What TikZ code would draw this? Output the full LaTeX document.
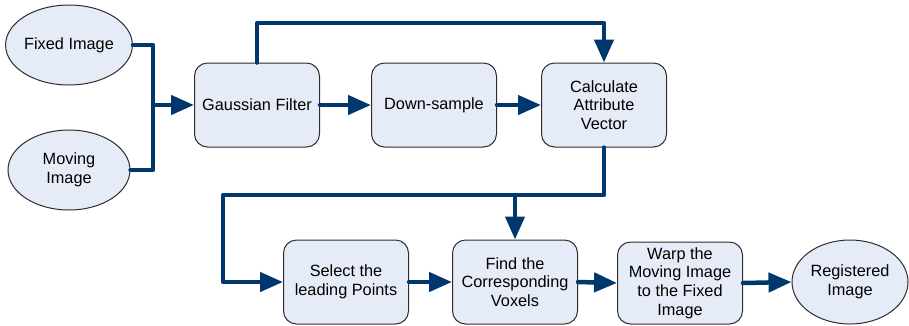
\documentclass[tikz,border=0pt]{standalone}
\usepackage{fontspec}
\setmainfont{Liberation Sans}
\usetikzlibrary{arrows.meta,shapes.geometric}
\definecolor{navy}{RGB}{0,56,110}
\definecolor{boxfill}{RGB}{230,236,247}
\definecolor{boxline}{RGB}{45,45,45}
\begin{document}
\begin{tikzpicture}[x=1pt,y=-1pt,
  every node/.style={font=\fontsize{16.3}{18.7}\selectfont, align=center, inner sep=0pt},
  procbox/.style={draw=boxline, line width=1pt, fill=boxfill, rounded corners=13pt,
    minimum width=125pt, minimum height=84pt},
  termnode/.style={draw=boxline, line width=1pt, fill=boxfill, ellipse,
    minimum width=122pt, minimum height=80pt},
  flow/.style={draw=navy, line width=4.5pt, line join=round, line cap=round},
  flowarr/.style={flow, -{Triangle[length=23pt,width=19pt]}}]
\useasboundingbox (0,0) rectangle (909,325);
\node[termnode] (fixed) at (69,45) {Fixed Image};
\node[termnode] (moving) at (69,170) {Moving\\Image};
\node[procbox] (gauss) at (257,105) {Gaussian Filter};
\node[procbox] (down) at (434,105) {Down-sample};
\node[procbox] (calc) at (604,105) {Calculate\\Attribute\\Vector};
\node[procbox] (select) at (346,282) {Select the\\leading Points};
\node[procbox] (find) at (515,282) {Find the\\Corresponding\\Voxels};
\node[procbox, minimum height=82pt] (warp) at (680,283) {Warp the\\Moving Image\\to the Fixed\\Image};
\node[termnode, minimum width=116pt, minimum height=84pt] (reg) at (850,282) {Registered\\Image};
\coordinate (j) at (153,105);
\coordinate (t1) at (257,23);
\coordinate (b1) at (604,195);
\coordinate (b2) at (223,195);
\coordinate (b3) at (515,195);
\draw[flow] (fixed.east) -| (j);
\draw[flow] (moving.east) -| (j);
\draw[flowarr] (j) -- (gauss.west);
\draw[flowarr] (gauss.east) -- (down.west);
\draw[flowarr] (down.east) -- (calc.west);
\draw[flowarr] (gauss.north) -- (t1) -| (calc.north);
\draw[flowarr] (calc.south) -- (b1) -- (b2) |- (select.west);
\draw[flowarr] (b3) -- (find.north);
\draw[flowarr] (select.east) -- (find.west);
\draw[flowarr] (find.east) -- (warp.west);
\draw[flowarr] (warp.east) -- (reg.west);
\end{tikzpicture}
\end{document}
